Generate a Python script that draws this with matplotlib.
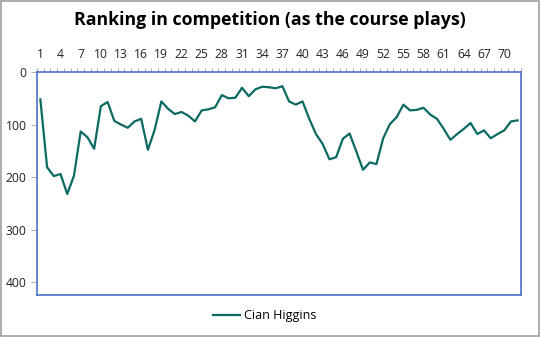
import numpy as np
import matplotlib.pyplot as plt

# Ranking per hole (lower = better)
holes = list(range(1, 73))
rank = [52, 181, 198, 194, 232, 197, 113, 124, 146, 65,
        57, 93, 100, 106, 94, 89, 148, 110, 56, 70,
        80, 76, 83, 94, 73, 71, 67, 44, 50, 49,
        30, 46, 33, 28, 29, 31, 27, 56, 62, 56,
        89, 118, 137, 166, 162, 127, 117, 151, 186, 172,
        175, 126, 99, 86, 62, 73, 72, 68, 81, 89,
        108, 129, 118, 108, 97, 118, 111, 126, 118, 111,
        94, 92]
player = "Cian Higgins"
tick_labels = [str(h) for h in holes[::3]]

fig = plt.figure(figsize=(5.4, 3.37), dpi=100)
plt.rcParams['font.family'] = ['Open Sans', 'DejaVu Sans']

ax = fig.add_axes([37/540, 1-295/337, 484/540, 223/337])
ax.plot(holes, rank, color='#0b6a62', lw=1.6, label=player)

ax.set_xlim(0.5, 72.5)
ax.set_ylim(424, 0)
ax.set_yticks([0, 100, 200, 300, 400])

ax.xaxis.tick_top()
ax.set_xticks(holes[::3])
ax.set_xticklabels(tick_labels)
ax.set_xticks(np.arange(0.5, 73, 1), minor=True)
ax.tick_params(axis='x', which='major', length=0, pad=8, labelsize=8.7, colors='#222222')
ax.tick_params(axis='x', which='minor', length=3, color='#b0b0b0', width=0.8)
ax.tick_params(axis='y', length=4, color='#b0b0b0', width=0.8, labelsize=8.7, labelcolor='#222222')

for s in ax.spines.values():
    s.set_color('#4a72c8')
    s.set_linewidth(1.2)

fig.text(0.5, 1-20/337, "Ranking in competition (as the course plays)",
         ha='center', va='center', fontsize=12.8, fontweight='bold')

fig.legend(loc='center', bbox_to_anchor=(0.49, 1-316/337), frameon=False,
           fontsize=9, handlelength=2.2, handletextpad=0.3)

# outer border
fig.patches.append(plt.Rectangle((0.001, 0.002), 0.997, 0.995, transform=fig.transFigure,
                                 fill=False, edgecolor='#a0a0a0', lw=1.2))

fig.savefig('out.png', dpi=100)
